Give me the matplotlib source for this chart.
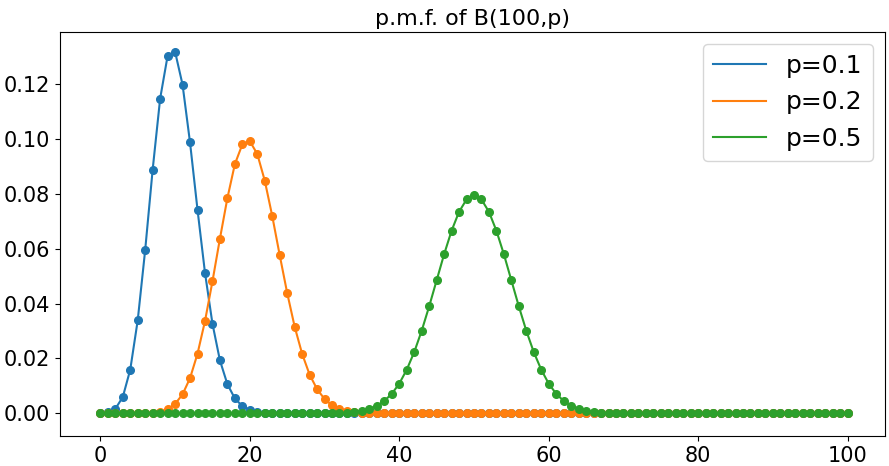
import matplotlib
matplotlib.use("Agg")
import matplotlib.pyplot as plt
from matplotlib.lines import Line2D

k = list(range(101))

# values (k = 0..100)
pmf_p01_head = [0.0000, 0.0003, 0.0016, 0.0059, 0.0159, 0.0339, 0.0596, 0.0889, 0.1148, 0.1304,
                0.1319, 0.1199, 0.0988, 0.0743, 0.0513, 0.0327, 0.0193, 0.0106, 0.0054, 0.0026,
                0.0012, 0.0005, 0.0002, 0.0001]
pmf_p01 = pmf_p01_head + [0.0] * (101 - len(pmf_p01_head))

pmf_p02_mid = [0.0002, 0.0006, 0.0015, 0.0034, 0.0069, 0.0128, 0.0217, 0.0336, 0.0481, 0.0637,
               0.0785, 0.0909, 0.0981, 0.0993, 0.0946, 0.0849, 0.0720, 0.0577, 0.0439, 0.0316,
               0.0217, 0.0141, 0.0088, 0.0052, 0.0029, 0.0016, 0.0008, 0.0004, 0.0002, 0.0001]
pmf_p02 = [0.0] * 7 + pmf_p02_mid + [0.0] * (101 - 7 - len(pmf_p02_mid))

pmf_p05_mid = [0.0001, 0.0002, 0.0005, 0.0009, 0.0016, 0.0027, 0.0045, 0.0071, 0.0108, 0.0159,
               0.0223, 0.0301, 0.0390, 0.0485, 0.0580, 0.0666, 0.0735, 0.0780, 0.0796, 0.0780,
               0.0735, 0.0666, 0.0580, 0.0485, 0.0390, 0.0301, 0.0223, 0.0159, 0.0108, 0.0071,
               0.0045, 0.0027, 0.0016, 0.0009, 0.0005, 0.0002, 0.0001]
pmf_p05 = [0.0] * 32 + pmf_p05_mid + [0.0] * (101 - 32 - len(pmf_p05_mid))

labels = ["p=0.1", "p=0.2", "p=0.5"]

fig = plt.figure(figsize=(8.89, 4.66), dpi=100)
ax = fig.add_axes([60/889, 1 - 436/466, (885-60)/889, (436-31.5)/466])
handles = []
for ys, lab in zip([pmf_p01, pmf_p02, pmf_p05], labels):
    line, = ax.plot(k, ys, marker='o', markersize=5.5, linewidth=1.5, label=lab)
    handles.append(Line2D([], [], color=line.get_color(), linewidth=1.5, label=lab))
ax.set_xlim(-5.4, 105)
ax.set_ylim(-0.0083, 0.1393)
ax.set_title("p.m.f. of B(100,p)", fontsize=16, pad=5)
ax.tick_params(labelsize=15)
ax.legend(handles=handles, fontsize=18, loc="upper right", handlelength=2.1)
fig.savefig("out.png")
